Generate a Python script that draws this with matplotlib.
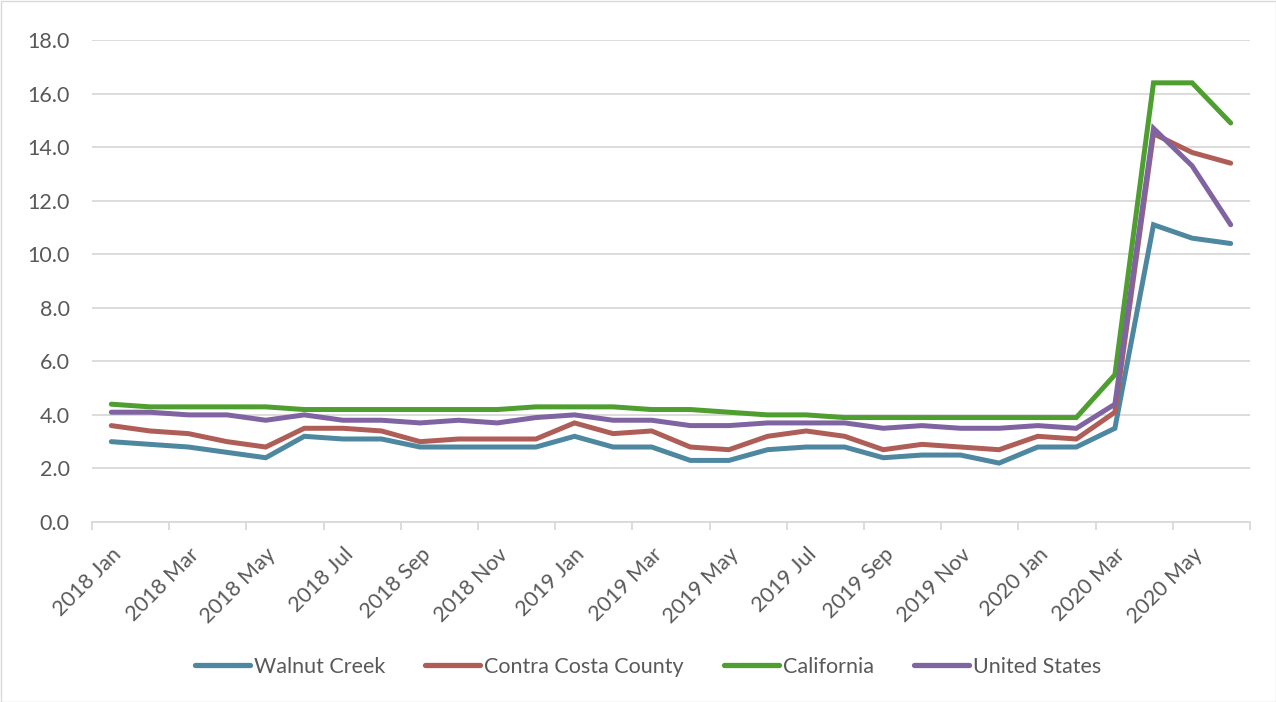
import matplotlib
matplotlib.use("Agg")
import matplotlib.pyplot as plt
import matplotlib.transforms as mtransforms
from matplotlib.ticker import FixedLocator, FuncFormatter, NullFormatter

months = ["2018 Jan", "2018 Feb", "2018 Mar", "2018 Apr", "2018 May", "2018 Jun",
          "2018 Jul", "2018 Aug", "2018 Sep", "2018 Oct", "2018 Nov", "2018 Dec",
          "2019 Jan", "2019 Feb", "2019 Mar", "2019 Apr", "2019 May", "2019 Jun",
          "2019 Jul", "2019 Aug", "2019 Sep", "2019 Oct", "2019 Nov", "2019 Dec",
          "2020 Jan", "2020 Feb", "2020 Mar", "2020 Apr", "2020 May", "2020 Jun"]

walnut_creek = [3.0, 2.9, 2.8, 2.6, 2.4, 3.2, 3.1, 3.1, 2.8, 2.8, 2.8, 2.8, 3.2, 2.8, 2.8,
                2.3, 2.3, 2.7, 2.8, 2.8, 2.4, 2.5, 2.5, 2.2, 2.8, 2.8, 3.5, 11.1, 10.6, 10.4]
contra_costa = [3.6, 3.4, 3.3, 3.0, 2.8, 3.5, 3.5, 3.4, 3.0, 3.1, 3.1, 3.1, 3.7, 3.3, 3.4,
                2.8, 2.7, 3.2, 3.4, 3.2, 2.7, 2.9, 2.8, 2.7, 3.2, 3.1, 4.1, 14.5, 13.8, 13.4]
california = [4.4, 4.3, 4.3, 4.3, 4.3, 4.2, 4.2, 4.2, 4.2, 4.2, 4.2, 4.3, 4.3, 4.3, 4.2,
              4.2, 4.1, 4.0, 4.0, 3.9, 3.9, 3.9, 3.9, 3.9, 3.9, 3.9, 5.5, 16.4, 16.4, 14.9]
united_states = [4.1, 4.1, 4.0, 4.0, 3.8, 4.0, 3.8, 3.8, 3.7, 3.8, 3.7, 3.9, 4.0, 3.8, 3.8,
                 3.6, 3.6, 3.7, 3.7, 3.7, 3.5, 3.6, 3.5, 3.5, 3.6, 3.5, 4.4, 14.7, 13.3, 11.1]

series = [("Walnut Creek", walnut_creek, "#4E87A0"),
          ("Contra Costa County", contra_costa, "#AE5E57"),
          ("California", california, "#4F9E30"),
          ("United States", united_states, "#8064A2")]

yticks = [0, 2, 4, 6, 8, 10, 12, 14, 16, 18]

plt.rcParams['font.family'] = ['Lato', 'DejaVu Sans']
txt = "#595959"
grid = "#D9D9D9"

fig = plt.figure(figsize=(12.76, 7.02), dpi=100)
ax = fig.add_axes([92/1276, 1 - 522/702, (1250 - 92)/1276, (522 - 40)/702])

x = list(range(len(months)))
for name, vals, col in series:
    ax.plot(x, vals, color=col, lw=3.6, label=name, solid_capstyle='round',
            solid_joinstyle='miter')

ax.set_xlim(-0.5, len(months) - 0.5)
ax.set_ylim(0, 18)
ax.set_yticks(yticks)
ax.yaxis.set_major_formatter(FuncFormatter(lambda v, p: f"{v:.1f}"))
ax.yaxis.grid(True, color=grid, lw=1.3)
ax.set_axisbelow(True)
ax.tick_params(axis='y', length=0, labelsize=15.5, labelcolor=txt, pad=16)

ax.set_xticks(x[::2])
ax.set_xticklabels(months[::2], rotation=45, ha='right', rotation_mode='anchor')
ax.xaxis.set_minor_locator(FixedLocator([i - 0.5 for i in range(0, len(months) + 1, 2)]))
ax.xaxis.set_minor_formatter(NullFormatter())
ax.tick_params(axis='x', which='major', length=0, labelsize=15.5, labelcolor=txt, pad=16)
ax.tick_params(axis='x', which='minor', length=6, color=grid, width=1.3)
offset = mtransforms.ScaledTranslation(0/100, 0, fig.dpi_scale_trans)
for lbl in ax.get_xticklabels():
    lbl.set_transform(lbl.get_transform() + offset)

for s in ['top', 'right', 'left']:
    ax.spines[s].set_visible(False)
ax.spines['bottom'].set_color(grid)
ax.spines['bottom'].set_linewidth(1.3)

leg = fig.legend(loc='center', bbox_to_anchor=(648/1276, 1 - 667/702), ncol=4, frameon=False,
                 fontsize=15.5, handlelength=2.55, columnspacing=1.85, handletextpad=0.2,
                 labelcolor=txt)
for h in leg.get_lines():
    h.set_linewidth(3.8)

fig.patches.append(plt.Rectangle((0.5/1276, 0.5/702), 1 - 1/1276, 1 - 1/702,
                                 transform=fig.transFigure, fill=False,
                                 edgecolor=grid, lw=1.0))

fig.savefig("out.png", dpi=100, facecolor="white")
